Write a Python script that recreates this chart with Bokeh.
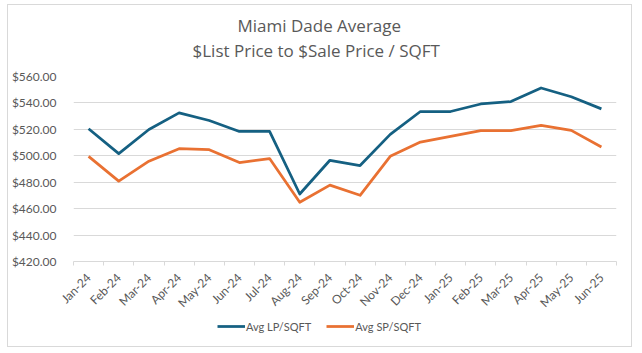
import math
from bokeh.plotting import figure
from bokeh.layouts import column
from bokeh.models import (FixedTicker, NumeralTickFormatter, Legend, LegendItem, Title, Range1d)
from bokeh.embed import file_html
from bokeh.resources import INLINE

months = ["Jan-24", "Feb-24", "Mar-24", "Apr-24", "May-24", "Jun-24", "Jul-24", "Aug-24",
          "Sep-24", "Oct-24", "Nov-24", "Dec-24", "Jan-25", "Feb-25", "Mar-25", "Apr-25",
          "May-25", "Jun-25"]
avg_lp = [520.5, 501.6, 519.9, 532.5, 526.7, 518.4, 518.4, 471.1, 496.6, 492.6,
          516.2, 533.5, 533.5, 539.2, 541.0, 551.3, 544.7, 535.5]
avg_sp = [499.6, 480.8, 495.9, 505.4, 504.6, 494.9, 497.9, 464.8, 477.8, 470.1,
          499.6, 510.4, 514.7, 519.0, 519.0, 523.0, 519.2, 506.6]
y_ticks = [420, 440, 460, 480, 500, 520, 540, 560]
title_lines = ["Miami Dade Average", "$List Price to $Sale Price / SQFT"]
series_names = ["Avg LP/SQFT", "Avg SP/SQFT"]

FONT = "Lato"
TITLE_FONT = "Open Sans"
GRAY = "#595959"
BLUE = "#156082"
ORANGE = "#E97132"
LINE_W = 2.75

xs = list(range(len(months)))

# ---------------- main chart ----------------
p = figure(width=623, height=313, output_backend="svg", toolbar_location=None,
           x_range=Range1d(-0.5, len(months) - 0.5), y_range=Range1d(420, 560),
           min_border_left=65, min_border_right=15, min_border_top=71, min_border_bottom=56)
p.title = None
p.outline_line_color = None
p.background_fill_color = "white"
p.border_fill_color = "white"

p.line(xs, avg_lp, line_color=BLUE, line_width=LINE_W, line_join="round")
p.line(xs, avg_sp, line_color=ORANGE, line_width=LINE_W, line_join="round")

p.xaxis.ticker = FixedTicker(ticks=xs, minor_ticks=[i - 0.5 for i in range(len(months) + 1)])
p.xaxis.major_label_overrides = {i: m for i, m in enumerate(months)}
p.xaxis.major_label_orientation = math.pi / 4
p.xaxis.major_tick_line_color = None
p.xaxis.minor_tick_line_color = "#d9d9d9"
p.xaxis.minor_tick_out = 4
p.xaxis.minor_tick_in = 0
p.xaxis.axis_line_color = "#d9d9d9"
p.xaxis.major_label_text_font = FONT
p.xaxis.major_label_text_font_size = "12px"
p.xaxis.major_label_text_color = GRAY
p.xaxis.major_label_standoff = 8

p.yaxis.ticker = FixedTicker(ticks=y_ticks)
p.yaxis.formatter = NumeralTickFormatter(format="$0.00")
p.yaxis.axis_line_color = None
p.yaxis.major_tick_line_color = None
p.yaxis.minor_tick_line_color = None
p.yaxis.major_label_text_font = FONT
p.yaxis.major_label_text_font_size = "12px"
p.yaxis.major_label_text_color = GRAY
p.yaxis.major_label_standoff = 11

p.xgrid.grid_line_color = None
p.ygrid.grid_line_color = "#d9d9d9"
p.ygrid.grid_line_width = 1

# spacer between the plot area and the two-line title
p.add_layout(Title(text=" ", text_font_size="1px", standoff=12), "above")
p.add_layout(Title(text=title_lines[1], align="left", offset=119, text_font=TITLE_FONT,
                   text_font_size="17px", text_font_style="normal", text_color=GRAY,
                   text_line_height=1.0, standoff=0), "above")
p.add_layout(Title(text=title_lines[0], align="left", offset=164, text_font=TITLE_FONT,
                   text_font_size="17px", text_font_style="normal", text_color=GRAY,
                   text_line_height=0.9, standoff=0), "above")

# ---------------- legend strip ----------------
# The series are drawn again here, outside the visible range, only to serve as legend keys.
p_leg = figure(width=623, height=28, output_backend="svg", toolbar_location=None,
               x_axis_location=None, y_axis_location=None, min_border=0,
               x_range=Range1d(-200, -199), y_range=Range1d(0, 1))
p_leg.title = None
p_leg.outline_line_color = None
p_leg.grid.visible = False
p_leg.border_fill_color = "white"
k1 = p_leg.line(xs, avg_lp, line_color=BLUE, line_width=LINE_W)
k2 = p_leg.line(xs, avg_sp, line_color=ORANGE, line_width=LINE_W)

legend = Legend(items=[LegendItem(label=series_names[0], renderers=[k1]),
                       LegendItem(label=series_names[1], renderers=[k2])],
                orientation="horizontal", location=(144, 13),
                label_text_font=FONT, label_text_font_size="11px", label_text_color=GRAY,
                glyph_width=28, glyph_height=14, label_standoff=1, spacing=15,
                padding=0, margin=0, border_line_color=None, background_fill_alpha=0)
p_leg.add_layout(legend)

layout = column(p, p_leg, spacing=0, margin=(4, 0, 0, 7),
                styles={"border": "1px solid #d9d9d9"})

open("out.html", "w").write(file_html(layout, INLINE))
